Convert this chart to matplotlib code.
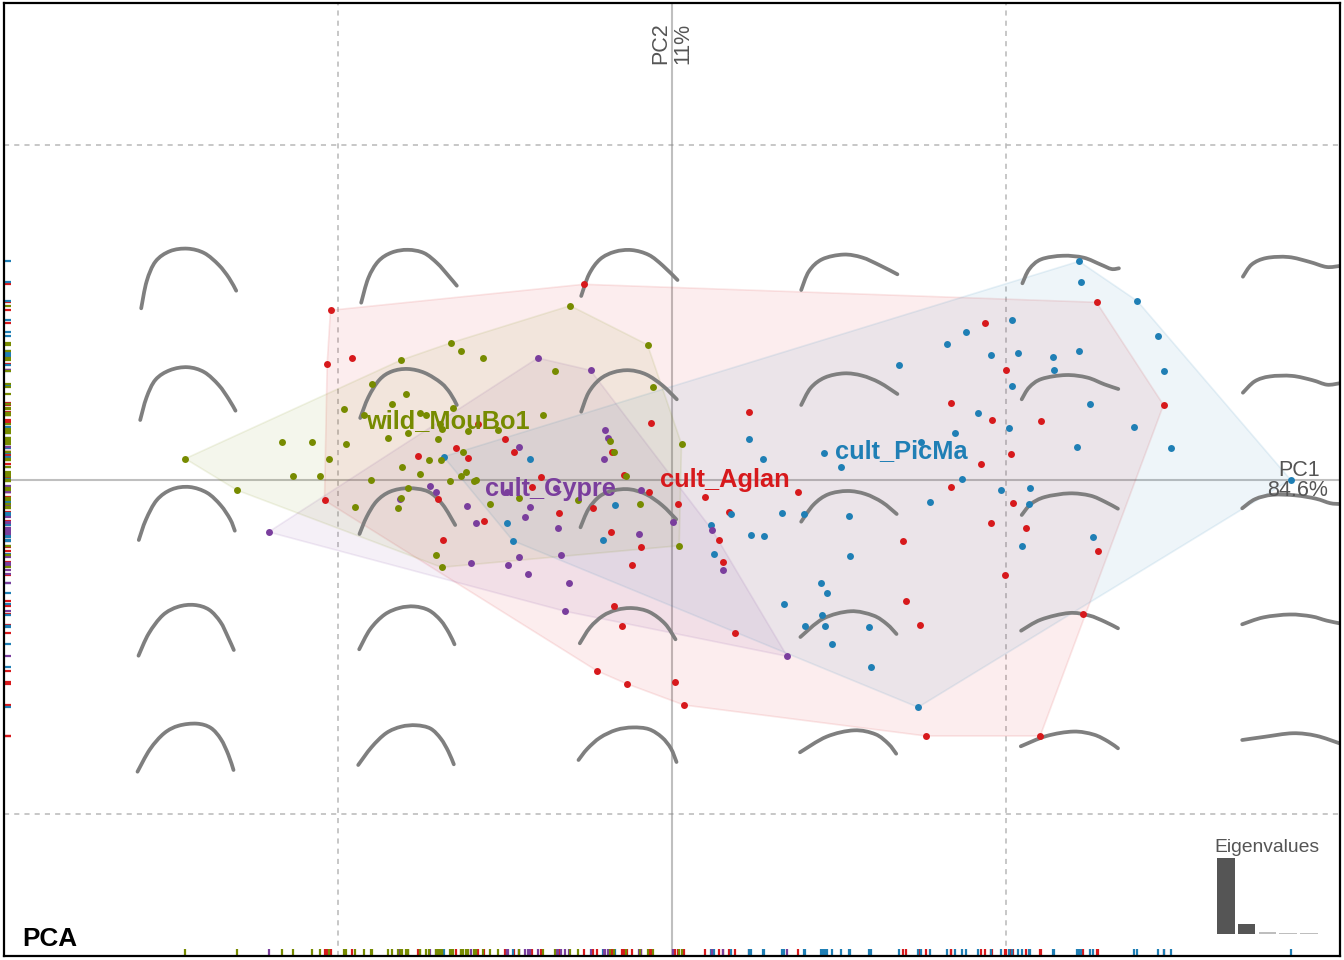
import numpy as np
import matplotlib
matplotlib.use("Agg")
import matplotlib.pyplot as plt
from matplotlib.path import Path
from matplotlib.patches import PathPatch, Polygon

plt.rcParams['font.family'] = ['Liberation Sans', 'DejaVu Sans']

# Scores (axes are scaled so that the origin sits at 672, 480)
cult_Aglan = [(584.3,284.3),(505,439.3),(478.7,424.3),(456,448.3),(468.7,457.7),(418.7,455.5),(514.7,452),(541.3,476.7),
    (532,486.7),(651.3,422.7),(612,452.3),(624.7,475.3),(649.3,492),(678.7,504),(705,496.7),(729.3,512.3),(749.7,412),
    (798,491.7),(438,499),(484,520.7),(559.7,512.7),(593,508.3),(611,532),(641,546.7),(632.3,565.3),(443.7,540.3),
    (719.3,539.7),(723.7,561.7),(614.3,605.7),(622.7,626),(597.7,671),(627,683.7),(675.7,681.7),(684.3,705),(735.7,632.7),
    (331,310.3),(327.7,363.7),(352.7,358.3),(325,500.3),(1097,302.3),(985.7,323),(1006.3,370),(951.6,402.7),(992.7,419.7),
    (1041.5,421),(1164,405),(1011.5,453.7),(981.5,464),(951.9,487),(1013.2,503),(991.6,523),(1026.1,527.7),(903.1,540.7),
    (1098.3,550.7),(906.4,601),(920.8,624.7),(1005,575),(1083.2,614.3),(1040.7,736),(926.6,736)]
cult_PicMa = [(444,456.7),(530,459),(615.7,504.7),(507.7,523),(513.3,540.7),(603.3,540.3),(731,514),(711,525.3),(749.7,439.3),
    (763,459),(782.7,512.7),(751,534.7),(764.7,536.3),(714.3,554),(850.3,555.7),(821.7,583),(827.7,593),(784.3,604.3),
    (822.3,615),(805,626.3),(825,625.7),(869.3,626.7),(832.7,643.7),(871,667.3),(918.6,707.3),(1079.5,261.3),(1081.3,281.7),
    (1137.8,301),(1012.5,320),(966,331.7),(947.6,343.7),(991.3,355.3),(1018.8,352.7),(1053.5,357.3),(1079.9,350.7),
    (1158.3,335.7),(899.3,365),(1054.2,370.3),(1164.6,370.7),(1012.5,386),(1090.3,404.3),(978.8,413.3),(1009.4,428),
    (1134.7,427.3),(955.2,433.3),(921.2,442.3),(1077.4,447.3),(1171.5,447.7),(824,453.3),(841.7,466.7),(962.5,479),
    (1291,479.7),(1001.4,490.3),(1030.6,488.3),(930.2,502),(1029.5,504.3),(804.9,514),(849.3,516.3),(1093.3,536.7),(1022.8,545.7)]
cult_Cypre = [(269,532),(400,498.7),(538.3,358),(591,370.3),(605.7,430),(608.3,438),(604,458.7),(519,447),(430.3,486.3),
    (436.3,491.7),(467.7,505.7),(476.3,523.3),(530.7,507),(525,517.3),(558.7,528.3),(639.3,534),(673.3,521.7),(641,490),
    (507.3,491.7),(556,487.7),(712.7,530),(723.3,570),(519.7,556.7),(561.3,555.3),(471.3,563),(508.3,565),(528,573.7),
    (569,582.7),(565.7,611.3),(787.7,656.3)]
wild_MouBo1 = [(185.7,458.7),(282.7,442.3),(312,442),(346,444.3),(329.3,458.7),(293.7,476.3),(320,476),(237.7,490.3),
    (355.3,506.7),(371.3,480),(401,360.3),(372.7,383.7),(406.7,394),(392,404),(344.3,409),(364,415.3),(420.7,413.3),(426,415),
    (408.7,433.3),(388,438.3),(438,438.7),(442.7,429),(402.7,467.3),(420.3,473.7),(429.7,460),(441.7,460.3),(408.7,488),
    (401.7,498.3),(398.7,508.3),(436.7,554.7),(442,567.3),(450,480.7),(570.7,305.7),(648,344.7),(451.7,342.7),(461.3,351.3),
    (483,358),(555.7,370.7),(653,387.3),(453.7,408.3),(543.7,415),(610.7,440.7),(614.7,452.3),(682,444),(468,430.7),
    (498.3,430),(463,452.3),(461.7,476),(466,472.3),(474,481.3),(476,480),(519.7,498),(490.3,504.3),(578.7,500),
    (626.7,475.7),(640.3,503.7),(679.7,545.7),(440,424)]

groups = ['cult_Aglan', 'cult_PicMa', 'cult_Cypre', 'wild_MouBo1']
group_points = [cult_Aglan, cult_PicMa, cult_Cypre, wild_MouBo1]
group_colors = ['#D7191C', '#1F7FB5', '#7A3E9D', '#778B00']
label_positions = [(725.5, 480), (901.5, 451), (550.5, 489), (448.5, 421)]

eigen_values = [84.6, 11.0, 2.2, 1.1, 1.1]
eigen_colors = ['#555555', '#555555', '#BEBEBE', '#BEBEBE', '#BEBEBE']

morpho_curves = [
 [(141.7,308.3),(146.7,280),(155,260),(170,250),(188.3,247.7),(205,251.7),(220,265),(230,278),(236.7,290.7)],
 [(140.7,420),(146.7,396.7),(155,378.3),(170,369.3),(188.3,366),(205,370.7),(220,385),(230,400),(236,410.7)],
 [(139.3,540),(145.7,520),(156.7,498.3),(171.7,488.3),(190,485.7),(208.3,491.7),(221.7,505),(231.7,520),(235.3,530.7)],
 [(139,655.7),(148.3,633.3),(163.3,613.3),(178.3,606),(195,604),(210,608.3),(221.7,621.7),(228.3,636.7),(234.3,650)],
 [(138,771.7),(150,748.3),(165,731.7),(178.3,725),(198.3,722.7),(211.7,726.7),(221.7,738.3),(229.3,755),(234,770)],
 [(361.7,302.7),(368.3,276.7),(378.3,260),(391.7,251.7),(408.3,249),(425,251.7),(438.3,263.3),(448.3,275),(457.3,285.7)],
 [(360.7,418),(368.3,396.7),(380,378),(391.7,370.7),(408.3,368),(425,371.7),(443.3,383.3),(451,393),(457.3,405)],
 [(360,534),(366.7,516.7),(376.7,500),(390,490.7),(408.3,487.3),(430,490),(443.3,503.3),(455.7,525)],
 [(359.7,649.3),(370,628.3),(385,613.3),(400,607.3),(415,605.7),(430,609.3),(441.7,620),(450,633.3),(455,644.3)],
 [(358.7,765),(371.7,746.7),(386.7,731.7),(401.7,726),(416.7,724.7),(431.7,727.3),(441.7,738.3),(449.3,751.7),(454.3,764.3)],
 [(581.7,296),(589,273),(600,258),(615,251),(632,249),(650,254),(663,265),(678,280)],
 [(581.7,411.7),(588.3,391.7),(600,378.3),(613.3,371.7),(630,369.3),(646.7,373.3),(663.3,385),(677.3,399.3)],
 [(581,527.3),(588.3,508.3),(600,495),(613.3,490),(630,488.3),(646.7,493.3),(663.3,505),(676.7,519.3)],
 [(580.3,643.3),(590,626.7),(603.3,615),(616.7,609.3),(633.3,607.3),(650,610.7),(666.7,623.3),(676,639.3)],
 [(579,760),(587,749),(600,737),(617,729),(633,727),(650,728),(663,737),(672,748),(677,762)],
 [(801.7,290),(808.7,270),(820.8,258.3),(845,253.3),(862.5,256.7),(879.9,265),(897.9,274.3)],
 [(801.7,405),(810.4,386.7),(824.3,376.7),(845,372.3),(862.5,375),(879.9,381.7),(897.9,394)],
 [(801.7,521.7),(813.9,503.3),(827.8,493.3),(848.6,490),(866,493.3),(883.3,501.7),(897.2,514)],
 [(800.9,637),(822.5,616.7),(852,609.3),(875.4,615),(888,624),(897,634)],
 [(800.5,752.3),(826.8,735),(855.6,728.7),(877.2,733.3),(889.8,744),(896.7,753.7)],
 [(1022.9,283.3),(1029.2,268.3),(1039.6,258.3),(1063.9,255),(1084.7,256.7),(1102.1,265),(1112.5,270),(1119.4,268.3)],
 [(1022.2,399.3),(1029.2,386.7),(1039.6,378.3),(1067.4,374),(1088.2,376.7),(1105.6,385),(1118.8,389)],
 [(1022.2,515),(1030.9,503.3),(1043,496.7),(1070.8,492.3),(1091.7,495),(1105.6,501.7),(1118.4,508.7)],
 [(1021.6,630.7),(1039.3,619),(1071.7,611.3),(1089.7,615),(1105.9,621.7),(1118.5,628.3)],
 [(1021.3,746.3),(1046.5,735),(1075.3,730.3),(1095,734),(1109.5,741.7),(1118.5,748.3)],
 [(1243.4,276.7),(1251.4,263.3),(1265.3,257.3),(1289.6,256),(1310.4,261.7),(1327.8,268.3),(1340,266)],
 [(1243.4,392.7),(1254.9,380),(1268.8,376),(1293.1,375),(1313.9,380),(1327.8,386),(1340,383.3)],
 [(1242.7,508.3),(1254.9,498.3),(1272,494),(1296.5,495),(1317.4,498.3),(1331.3,504),(1340,504)],
 [(1242.7,624.3),(1262.5,616.7),(1291.3,613.7),(1313,616),(1327.4,621),(1340,623.3)],
 [(1242.7,740),(1262.5,737.3),(1295,732),(1316.5,735),(1340,743.3)],
]

origin = (672, 480)
grid_x = [338, 1006]
grid_y = [145, 814]


def hull(points):
    pts = sorted(set(points))
    def half(seq):
        out = []
        for p in seq:
            while len(out) > 1 and ((out[-1][0]-out[-2][0])*(p[1]-out[-2][1]) -
                                    (out[-1][1]-out[-2][1])*(p[0]-out[-2][0])) <= 0:
                out.pop()
            out.append(p)
        return out[:-1]
    return half(pts) + half(pts[::-1])


def smooth_path(pts):
    p = np.array(pts, float)
    # one light pass to even out reading noise along the outline
    p[1:-1] = 0.7*p[1:-1] + 0.15*(p[:-2] + p[2:])
    q = np.vstack([p[0], p, p[-1]])
    verts = [p[0]]
    codes = [Path.MOVETO]
    for i in range(1, len(q) - 2):
        c1 = q[i] + (q[i+1] - q[i-1]) / 6
        c2 = q[i+1] - (q[i+2] - q[i]) / 6
        verts += [c1, c2, q[i+1]]
        codes += [Path.CURVE4] * 3
    return Path(verts, codes)


W, H = 1344, 960
fig = plt.figure(figsize=(W/100, H/100), dpi=100, facecolor='white')
L, R, T, B = 4, 1340, 3, 956
ax = fig.add_axes([L/W, 1-B/H, (R-L)/W, (B-T)/H])
ax.set_xlim(L + 0.5, R + 0.5)
ax.set_ylim(B, T)
ax.set_xticks([])
ax.set_yticks([])
for s in ax.spines.values():
    s.set_linewidth(1.6)
    s.set_color('black')
    s.set_zorder(10)

for gx in grid_x:
    ax.axvline(gx, color='#BBBBBB', lw=1.15, ls=(0, (3.2, 3.2)), zorder=1)
for gy in grid_y:
    ax.axhline(gy, color='#BBBBBB', lw=1.15, ls=(0, (3.2, 3.2)), zorder=1)
ax.axvline(origin[0], color='#8C8C8C', lw=1.5, alpha=0.55, zorder=1)
ax.axhline(origin[1], color='#8C8C8C', lw=1.5, alpha=0.55, zorder=1)

for c in morpho_curves:
    ax.add_patch(PathPatch(smooth_path(c), fc='none', ec='#7F7F7F', lw=2.7, capstyle='round', zorder=3))

for pts, col in zip(group_points, group_colors):
    ax.add_patch(Polygon(hull(pts), closed=True, fc=col, ec='none', alpha=0.075, zorder=2))
    ax.add_patch(Polygon(hull(pts), closed=True, fc='none', ec=col, lw=1.2, alpha=0.1, zorder=2))

for pts, col in zip(group_points, group_colors):
    xs, ys = zip(*pts)
    ax.scatter(xs, ys, s=25, color=col, linewidths=0, zorder=4)
    ax.vlines(xs, 0, 7/(B-T), color=col, lw=1.6, transform=ax.get_xaxis_transform(), zorder=5)
    ax.hlines(ys, 0, 7/(R-L), color=col, lw=1.6, transform=ax.get_yaxis_transform(), zorder=5)

for name, (lx, ly), col in zip(groups, label_positions, group_colors):
    ax.text(lx, ly, name, color=col, fontsize=18.3, fontweight='bold', ha='center', va='center', zorder=6)

ax.text(1299.5, 471, 'PC1', color='#555555', fontsize=15.5, ha='center', va='center', zorder=6)
ax.text(1298.5, 491, '84.6%', color='#555555', fontsize=15.5, ha='center', va='center', zorder=6)
ax.text(661, 43, 'PC2', color='#555555', fontsize=15.5, rotation=90, ha='center', va='center', zorder=6)
ax.text(683, 43, '11%', color='#555555', fontsize=15.5, rotation=90, ha='center', va='center', zorder=6)
ax.text(23, 946, 'PCA', color='black', fontsize=18.8, fontweight='bold', ha='left', va='baseline', zorder=6)
ax.text(1267, 848, 'Eigenvalues', color='#555555', fontsize=13.9, ha='center', va='center', zorder=6)

ex0, ex1, ey0, ey1 = 1217.3, 1317.5, 934, 858
ea = fig.add_axes([ex0/W, 1-ey0/H, (ex1-ex0)/W, (ey0-ey1)/H])
ea.patch.set_alpha(0)
ea.bar(range(1, len(eigen_values)+1), eigen_values, width=0.84, color=eigen_colors)
ea.set_xlim(0.58, 5.42)
ea.set_ylim(0, eigen_values[0])
ea.axis('off')

fig.savefig('out.png', dpi=100, facecolor='white')
